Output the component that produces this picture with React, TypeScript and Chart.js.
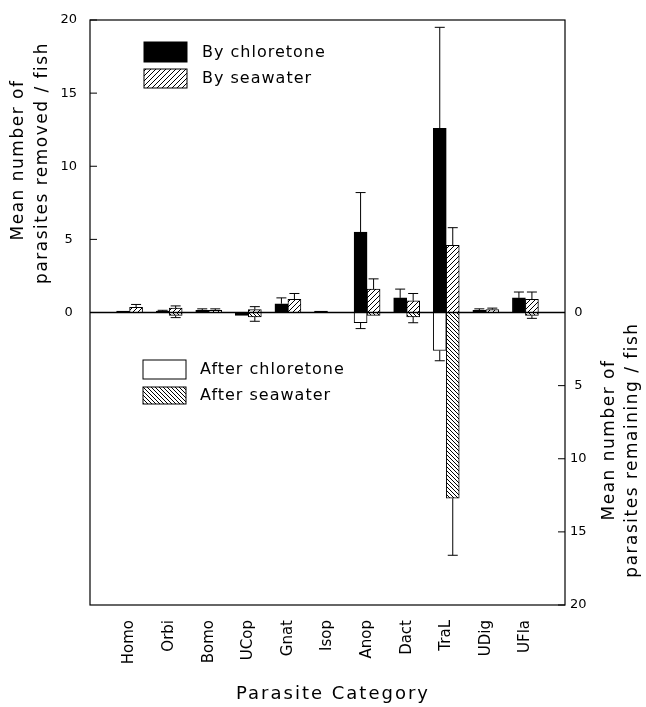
import React, { useEffect, useRef } from 'react';
import { Chart, registerables } from 'chart.js';
Chart.register(...registerables);

const categories = ['Homo', 'Orbi', 'Bomo', 'UCop', 'Gnat', 'Isop', 'Anop', 'Dact', 'TraL', 'UDig', 'UFla'];

// removed (upper half)
const removedChloretone = [0.1, 0.1, 0.15, -0.2, 0.6, 0.1, 5.5, 1.0, 12.6, 0.15, 1.0];
const removedChloretoneErr = [0, 0.05, 0.1, 0, 0.4, 0, 2.7, 0.6, 6.9, 0.1, 0.4];
const removedSeawater = [0.35, 0.3, 0.15, 0.2, 0.9, 0, 1.6, 0.8, 4.6, 0.2, 0.9];
const removedSeawaterErr = [0.2, 0.15, 0.1, 0.2, 0.4, 0, 0.7, 0.5, 1.2, 0.1, 0.5];

// remaining (lower half, plotted downward)
const remainingChloretone = [0, 0, 0, 0, 0, 0, 0.7, 0, 2.6, 0, 0];
const remainingChloretoneErr = [0, 0, 0, 0, 0, 0, 0.4, 0, 0.7, 0, 0];
const remainingSeawater = [0, 0.2, 0, 0.3, 0, 0, 0.2, 0.3, 12.7, 0, 0.2];
const remainingSeawaterErr = [0, 0.15, 0, 0.3, 0, 0, 0, 0.4, 3.9, 0, 0.2];

const leftTickValues = [0, 5, 10, 15, 20];
const rightTickValues = [0, 5, 10, 15, 20];

const FONT = "'DejaVu Sans', sans-serif";

function makePattern(dir: 'up' | 'down', s: number) {
  const c = document.createElement('canvas');
  c.width = s;
  c.height = s;
  const g = c.getContext('2d')!;
  g.fillStyle = '#fff';
  g.fillRect(0, 0, s, s);
  g.strokeStyle = '#000';
  g.lineWidth = 1;
  g.beginPath();
  if (dir === 'up') {
    g.moveTo(-1, s + 1); g.lineTo(s + 1, -1);
    g.moveTo(-1, 1); g.lineTo(1, -1);
    g.moveTo(s - 1, s + 1); g.lineTo(s + 1, s - 1);
  } else {
    g.moveTo(-1, -1); g.lineTo(s + 1, s + 1);
    g.moveTo(s - 1, -1); g.lineTo(s + 1, 1);
    g.moveTo(-1, s - 1); g.lineTo(1, s + 1);
  }
  g.stroke();
  return g.createPattern(c, 'repeat')!;
}

const pad = (arr: number[]) => [null, ...arr, null];

export default function App() {
  const ref = useRef<HTMLCanvasElement>(null);
  useEffect(() => {
    const canvas = ref.current!;
    const upPat = makePattern('up', 5);
    const downPat = makePattern('down', 4);
    const labels = ['', ...categories, ''];
    const errs = [
      pad(removedChloretoneErr),
      pad(removedSeawaterErr),
      pad(remainingChloretoneErr),
      pad(remainingSeawaterErr),
    ];

    const decor = {
      id: 'decor',
      afterDatasetsDraw(chart: any) {
        const ctx = chart.ctx;
        const ys = chart.scales.y;
        const { left, right, top, bottom } = chart.chartArea;
        ctx.save();
        ctx.strokeStyle = '#000';
        ctx.lineWidth = 1;
        // error bars
        chart.data.datasets.forEach((ds: any, i: number) => {
          const meta = chart.getDatasetMeta(i);
          meta.data.forEach((el: any, j: number) => {
            const v = ds.data[j];
            const e = errs[i][j];
            if (v == null || !e) return;
            const sign = v < 0 ? -1 : 1;
            const py = ys.getPixelForValue(v + sign * e);
            ctx.beginPath();
            ctx.moveTo(el.x, el.y);
            ctx.lineTo(el.x, py);
            ctx.moveTo(el.x - 5, py);
            ctx.lineTo(el.x + 5, py);
            ctx.stroke();
          });
        });
        // zero line
        const y0 = ys.getPixelForValue(0);
        ctx.lineWidth = 1.5;
        ctx.beginPath();
        ctx.moveTo(left, y0);
        ctx.lineTo(right, y0);
        ctx.stroke();
        // frame
        ctx.lineWidth = 1.2;
        ctx.strokeRect(left, top, right - left, bottom - top);
        // inward ticks
        ctx.lineWidth = 1;
        leftTickValues.forEach((v) => {
          const p = ys.getPixelForValue(v);
          ctx.beginPath();
          ctx.moveTo(left, p);
          ctx.lineTo(left + 7, p);
          ctx.stroke();
        });
        const y2 = chart.scales.y2;
        rightTickValues.forEach((v) => {
          const p = y2.getPixelForValue(-v);
          ctx.beginPath();
          ctx.moveTo(right - 7, p);
          ctx.lineTo(right, p);
          ctx.stroke();
        });

        // legends
        const box = (x: number, y: number, w: number, h: number, fill: any) => {
          ctx.fillStyle = fill;
          ctx.fillRect(x, y, w, h);
          ctx.strokeRect(x, y, w, h);
        };
        box(144, 42, 43, 20, '#000');
        box(144, 69, 43, 19, upPat);
        box(143, 360, 43, 19, '#fff');
        box(143, 387, 43, 17, downPat);

        ctx.fillStyle = '#000';
        ctx.font = `16px ${FONT}`;
        (ctx as any).letterSpacing = '1px';
        ctx.textAlign = 'left';
        ctx.textBaseline = 'middle';
        ctx.fillText('By chloretone', 202, 53);
        ctx.fillText('By seawater', 202, 79);
        ctx.fillText('After chloretone', 200, 370);
        ctx.fillText('After seawater', 200, 396);

        // axis titles
        ctx.font = `17px ${FONT}`;
        (ctx as any).letterSpacing = '1.5px';
        ctx.textAlign = 'center';
        const vtext = (t: string, x: number, cy: number) => {
          ctx.save();
          ctx.translate(x, cy);
          ctx.rotate(-Math.PI / 2);
          ctx.fillText(t, 0, 0);
          ctx.restore();
        };
        vtext('Mean number of', 19, 160);
        vtext('parasites removed / fish', 43, 163);
        vtext('Mean number of', 610, 440);
        vtext('parasites remaining / fish', 633, 450);

        ctx.font = `18px ${FONT}`;
        (ctx as any).letterSpacing = '2px';
        ctx.fillText('Parasite Category', 333, 694);
        ctx.restore();
      },
    };

    const chart = new Chart(canvas, {
      type: 'bar',
      data: {
        labels,
        datasets: [
          { label: 'By chloretone', data: pad(removedChloretone), stack: 'a', backgroundColor: '#000' },
          { label: 'By seawater', data: pad(removedSeawater), stack: 'b', backgroundColor: upPat },
          { label: 'After chloretone', data: pad(remainingChloretone.map((v) => -v)), stack: 'a', backgroundColor: '#fff' },
          { label: 'After seawater', data: pad(remainingSeawater.map((v) => -v)), stack: 'b', backgroundColor: downPat },
        ] as any,
      },
      options: {
        responsive: false,
        animation: false,
        layout: { padding: { left: 50, right: 51, top: 20, bottom: 0 } },
        datasets: { bar: { barThickness: 13, borderColor: '#000', borderWidth: 1 } } as any,
        plugins: { legend: { display: false }, tooltip: { enabled: false } },
        scales: {
          x: {
            stacked: true,
            offset: false,
            grid: { display: false },
            border: { display: false },
            ticks: {
              autoSkip: false,
              maxRotation: 90,
              minRotation: 90,
              padding: 7,
              color: '#000',
              font: { family: FONT, size: 15 },
            },
            afterFit: (s: any) => { s.height = 102; },
          },
          y: {
            stacked: true,
            position: 'left',
            min: -20,
            max: 20,
            grid: { display: false },
            border: { display: false },
            ticks: {
              stepSize: 5,
              padding: 5,
              crossAlign: 'center',
              color: '#000',
              font: { family: FONT, size: 13 },
              callback: (v: any) => (v >= 0 ? String(v) : ''),
            },
            afterFit: (s: any) => { s.width = 40; },
          },
          y2: {
            position: 'right',
            min: -20,
            max: 20,
            grid: { display: false },
            border: { display: false },
            ticks: {
              stepSize: 5,
              padding: -3,
              crossAlign: 'center',
              color: '#000',
              font: { family: FONT, size: 13 },
              callback: (v: any) => (v <= 0 ? String(Math.abs(v)) : ''),
            },
            afterFit: (s: any) => { s.width = 30; },
          },
        } as any,
      },
      plugins: [decor],
    });
    return () => chart.destroy();
  }, []);

  return (
    <div style={{ position: 'absolute', left: 0, top: 0, width: 646, height: 707, background: '#fff' }}>
      <canvas ref={ref} width={646} height={707} style={{ display: 'block' }} />
    </div>
  );
}
